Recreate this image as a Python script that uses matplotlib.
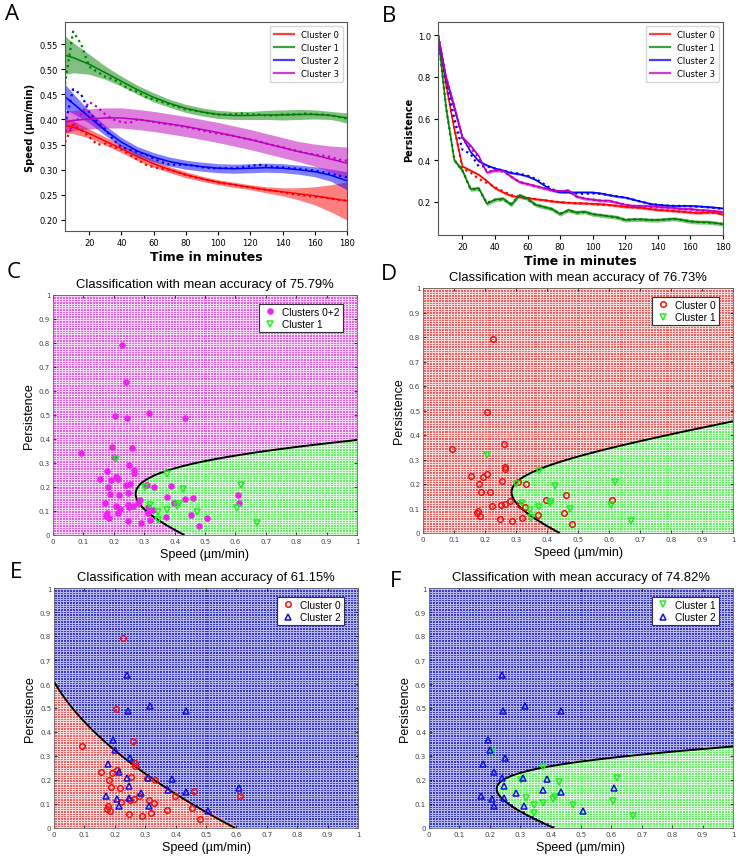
import numpy as np
import matplotlib
matplotlib.use('Agg')
import matplotlib.pyplot as plt
from matplotlib.colors import to_rgb
from matplotlib.lines import Line2D

# ---------------- Panel A : speed over time ----------------
t_raw = np.arange(5, 181, 5)
t_fit = np.array([5, 10, 20, 30, 40, 50, 60, 70, 80, 90, 100, 110, 120, 130, 140, 150, 160, 170, 180])
cluster_names = ['Cluster 0', 'Cluster 1', 'Cluster 2', 'Cluster 3']

speed_fit_c0 = [0.388, 0.385, 0.372, 0.357, 0.342, 0.326, 0.312, 0.300, 0.290, 0.282, 0.275, 0.270, 0.265, 0.260, 0.256, 0.252, 0.248, 0.243, 0.238]
speed_fit_c1 = [0.528, 0.523, 0.510, 0.493, 0.476, 0.459, 0.444, 0.432, 0.422, 0.415, 0.410, 0.408, 0.408, 0.409, 0.409, 0.410, 0.410, 0.408, 0.403]
speed_fit_c2 = [0.445, 0.432, 0.405, 0.378, 0.355, 0.337, 0.325, 0.316, 0.310, 0.306, 0.303, 0.302, 0.303, 0.304, 0.303, 0.300, 0.296, 0.289, 0.278]
speed_fit_c3 = [0.395, 0.398, 0.401, 0.403, 0.403, 0.400, 0.396, 0.391, 0.386, 0.380, 0.374, 0.367, 0.360, 0.352, 0.344, 0.336, 0.329, 0.321, 0.313]

speed_band_c0 = [0.015, 0.013, 0.009, 0.008, 0.008, 0.008, 0.007, 0.006, 0.006, 0.005, 0.005, 0.005, 0.005, 0.006, 0.008, 0.012, 0.018, 0.027, 0.038]
speed_band_c1 = [0.038, 0.030, 0.020, 0.013, 0.010, 0.009, 0.009, 0.008, 0.008, 0.008, 0.008, 0.008, 0.008, 0.009, 0.010, 0.010, 0.009, 0.008, 0.010]
speed_band_c2 = [0.025, 0.020, 0.012, 0.010, 0.009, 0.009, 0.009, 0.009, 0.009, 0.009, 0.009, 0.009, 0.009, 0.009, 0.009, 0.009, 0.010, 0.012, 0.018]
speed_band_c3 = [0.022, 0.020, 0.020, 0.020, 0.020, 0.020, 0.020, 0.020, 0.020, 0.020, 0.020, 0.020, 0.020, 0.020, 0.020, 0.020, 0.022, 0.026, 0.032]

speed_raw_c0 = [0.355, 0.390, 0.380, 0.365, 0.350, 0.352, 0.345, 0.340, 0.330, 0.320, 0.310, 0.305, 0.302, 0.300, 0.295, 0.290, 0.285, 0.282,
                0.278, 0.275, 0.272, 0.270, 0.267, 0.265, 0.262, 0.260, 0.258, 0.255, 0.252, 0.250, 0.248, 0.246, 0.245, 0.243, 0.240, 0.238]
speed_raw_c1 = [0.470, 0.575, 0.550, 0.505, 0.495, 0.485, 0.480, 0.470, 0.460, 0.455, 0.445, 0.440, 0.435, 0.430, 0.425, 0.420, 0.418, 0.415,
                0.412, 0.410, 0.410, 0.410, 0.412, 0.410, 0.410, 0.408, 0.408, 0.410, 0.410, 0.410, 0.412, 0.410, 0.410, 0.408, 0.405, 0.402]
speed_raw_c2 = [0.390, 0.460, 0.450, 0.415, 0.395, 0.380, 0.360, 0.345, 0.340, 0.335, 0.330, 0.322, 0.315, 0.310, 0.310, 0.310, 0.308, 0.305,
                0.303, 0.303, 0.303, 0.303, 0.305, 0.307, 0.310, 0.308, 0.305, 0.305, 0.303, 0.302, 0.300, 0.298, 0.295, 0.292, 0.288, 0.285]
speed_raw_c3 = [0.375, 0.385, 0.410, 0.435, 0.425, 0.410, 0.400, 0.395, 0.393, 0.400, 0.398, 0.395, 0.392, 0.390, 0.388, 0.385, 0.382, 0.378,
                0.375, 0.372, 0.370, 0.367, 0.363, 0.360, 0.357, 0.352, 0.348, 0.345, 0.340, 0.337, 0.333, 0.330, 0.328, 0.325, 0.320, 0.318]

# ---------------- Panel B : persistence over time ----------------
pers_c0 = [1.0, 0.76, 0.55, 0.37, 0.35, 0.33, 0.30, 0.265, 0.245, 0.228, 0.222, 0.218, 0.212, 0.208, 0.202, 0.198, 0.195, 0.193,
           0.192, 0.190, 0.188, 0.185, 0.180, 0.175, 0.173, 0.170, 0.165, 0.160, 0.158, 0.155, 0.152, 0.148, 0.145, 0.148, 0.148, 0.138]
pers_c1 = [1.0, 0.65, 0.40, 0.35, 0.26, 0.265, 0.19, 0.21, 0.215, 0.185, 0.232, 0.215, 0.185, 0.175, 0.165, 0.14, 0.16, 0.148,
           0.152, 0.14, 0.135, 0.13, 0.125, 0.112, 0.115, 0.115, 0.112, 0.112, 0.115, 0.118, 0.112, 0.105, 0.102, 0.102, 0.098, 0.092]
pers_c2 = [1.0, 0.79, 0.65, 0.51, 0.44, 0.395, 0.375, 0.36, 0.35, 0.338, 0.332, 0.322, 0.305, 0.28, 0.255, 0.245, 0.245, 0.245,
           0.245, 0.245, 0.24, 0.232, 0.225, 0.22, 0.21, 0.20, 0.19, 0.185, 0.182, 0.18, 0.18, 0.18, 0.178, 0.175, 0.172, 0.168]
pers_c3 = [1.0, 0.80, 0.66, 0.51, 0.47, 0.42, 0.34, 0.35, 0.35, 0.32, 0.295, 0.285, 0.275, 0.265, 0.255, 0.25, 0.255, 0.225,
           0.215, 0.21, 0.205, 0.205, 0.195, 0.185, 0.18, 0.18, 0.178, 0.175, 0.172, 0.17, 0.165, 0.165, 0.16, 0.158, 0.155, 0.15]

pers_dot_c0 = [1.0, 0.76, 0.56, 0.36, 0.34, 0.31, 0.29, 0.27, 0.25, 0.232, 0.224, 0.218, 0.212, 0.207, 0.202, 0.198, 0.195, 0.193,
               0.191, 0.189, 0.187, 0.184, 0.18, 0.176, 0.172, 0.17, 0.166, 0.161, 0.158, 0.155, 0.152, 0.149, 0.146, 0.148, 0.147, 0.14]
pers_dot_c1 = [1.0, 0.65, 0.40, 0.35, 0.26, 0.26, 0.195, 0.21, 0.21, 0.19, 0.228, 0.21, 0.185, 0.175, 0.165, 0.142, 0.158, 0.148,
               0.15, 0.14, 0.135, 0.13, 0.123, 0.113, 0.115, 0.115, 0.112, 0.112, 0.114, 0.117, 0.112, 0.106, 0.102, 0.1, 0.097, 0.093]
pers_dot_c2 = [1.0, 0.78, 0.60, 0.45, 0.43, 0.37, 0.37, 0.36, 0.35, 0.34, 0.335, 0.325, 0.31, 0.285, 0.26, 0.248, 0.245, 0.24,
               0.238, 0.24, 0.238, 0.232, 0.226, 0.22, 0.21, 0.2, 0.19, 0.185, 0.182, 0.18, 0.18, 0.178, 0.176, 0.174, 0.17, 0.165]
pers_dot_c3 = [1.0, 0.80, 0.66, 0.50, 0.46, 0.41, 0.345, 0.35, 0.345, 0.32, 0.295, 0.285, 0.275, 0.265, 0.255, 0.25, 0.252, 0.225,
               0.215, 0.21, 0.205, 0.203, 0.195, 0.185, 0.18, 0.178, 0.176, 0.174, 0.172, 0.168, 0.165, 0.163, 0.158, 0.156, 0.153, 0.148]
pers_band = [0.006, 0.010, 0.005, 0.008]

# ---------------- Panels C-F : cell scatter (speed, persistence) ----------------
c0_speed = [0.093, 0.260, 0.265, 0.266, 0.155, 0.192, 0.208, 0.180, 0.254, 0.186, 0.216, 0.305, 0.333, 0.280, 0.264, 0.250, 0.221,
            0.314, 0.328, 0.178, 0.174, 0.185, 0.247, 0.288, 0.318, 0.398, 0.462, 0.371, 0.454, 0.480, 0.611, 0.226, 0.205]
c0_pers = [0.341, 0.364, 0.269, 0.260, 0.233, 0.229, 0.241, 0.201, 0.211, 0.169, 0.167, 0.208, 0.198, 0.132, 0.120, 0.116, 0.110,
           0.116, 0.106, 0.091, 0.080, 0.069, 0.058, 0.051, 0.061, 0.133, 0.155, 0.075, 0.083, 0.037, 0.133, 0.790, 0.494]
c1_speed = [0.206, 0.374, 0.301, 0.426, 0.618, 0.320, 0.345, 0.347, 0.374, 0.409, 0.413, 0.473, 0.605, 0.672]
c1_pers = [0.317, 0.253, 0.198, 0.190, 0.208, 0.124, 0.094, 0.061, 0.106, 0.122, 0.128, 0.096, 0.113, 0.049]
c2_speed = [0.240, 0.245, 0.317, 0.434, 0.193, 0.201, 0.249, 0.179, 0.215, 0.240, 0.309, 0.389, 0.247, 0.374, 0.285, 0.434,
            0.607, 0.170, 0.206, 0.248, 0.215, 0.312, 0.506]
c2_pers = [0.636, 0.488, 0.507, 0.488, 0.365, 0.326, 0.292, 0.265, 0.235, 0.210, 0.208, 0.205, 0.175, 0.160, 0.144, 0.150,
           0.167, 0.132, 0.122, 0.125, 0.092, 0.090, 0.069]

# decision boundaries (speed, persistence)
bndC_x = [0.434, 0.374, 0.319, 0.290, 0.275, 0.282, 0.297, 0.374, 0.484, 0.703, 1.0]
bndC_y = [0.0, 0.038, 0.086, 0.120, 0.160, 0.195, 0.218, 0.274, 0.302, 0.350, 0.396]
bndD_x = [0.441, 0.344, 0.301, 0.285, 0.312, 0.376, 0.505, 0.726, 1.0]
bndD_y = [0.0, 0.072, 0.127, 0.181, 0.215, 0.262, 0.314, 0.382, 0.456]
bndE_x = [0.0, 0.019, 0.128, 0.238, 0.348, 0.457, 0.596]
bndE_y = [0.604, 0.573, 0.414, 0.282, 0.180, 0.101, 0.0]
bndF_x = [0.415, 0.338, 0.283, 0.243, 0.272, 0.338, 0.448, 0.557, 0.667, 1.0]
bndF_y = [0.0, 0.039, 0.080, 0.164, 0.219, 0.247, 0.268, 0.286, 0.300, 0.340]

accuracies = ['75.79%', '76.73%', '61.15%', '74.82%']
tick_vals = [0, 0.1, 0.2, 0.3, 0.4, 0.5, 0.6, 0.7, 0.8, 0.9, 1.0]
tick_labels = ['0', '0.1', '0.2', '0.3', '0.4', '0.5', '0.6', '0.7', '0.8', '0.9', '1']

# ======================================================================
W, H = 740, 862
fig = plt.figure(figsize=(W / 100, H / 100), dpi=100)


def rect(l, t, r, b):
    return [l / W, 1 - b / H, (r - l) / W, (b - t) / H]


letter_font = dict(fontsize=16, family=['Open Sans', 'DejaVu Sans'])


def letter(x, y, s):
    fig.text(x / W, 1 - y / H, s, ha='center', va='center', **letter_font)


cols = ['red', 'green', 'blue', 'm']


def style_time_axes(ax, ylabel):
    ax.set_xlim(5, 180)
    ax.set_xticks(np.arange(20, 181, 20))
    ax.tick_params(labelsize=6, length=3, pad=2)
    ax.set_xlabel('Time in minutes', fontsize=9, fontweight='bold', labelpad=2)
    ax.set_ylabel(ylabel, fontsize=7, fontweight='bold', labelpad=3)
    for sp in ax.spines.values():
        sp.set_color('#555555')
    handles = [Line2D([], [], color=cols[i], lw=1.6, alpha=0.75) for i in range(4)]
    ax.legend(handles, cluster_names, loc='upper right', fontsize=6, handlelength=2.4,
              borderpad=0.5, labelspacing=0.45)


# ---- A
axA = fig.add_axes(rect(65, 23, 347, 232))
fits = [speed_fit_c0, speed_fit_c1, speed_fit_c2, speed_fit_c3]
bands = [speed_band_c0, speed_band_c1, speed_band_c2, speed_band_c3]
raws = [speed_raw_c0, speed_raw_c1, speed_raw_c2, speed_raw_c3]
for i in range(4):
    f = np.array(fits[i]); h = np.array(bands[i])
    axA.fill_between(t_fit, f - h, f + h, color=cols[i], alpha=0.5, lw=0)
    axA.plot(t_fit, f, color=cols[i], lw=1.1)
    axA.plot(t_raw, raws[i], color=cols[i], lw=1.6, ls=(0, (1, 1.6)))
axA.set_ylim(0.178, 0.594)
axA.set_yticks(np.arange(0.20, 0.56, 0.05))
axA.yaxis.set_major_formatter(matplotlib.ticker.FormatStrFormatter('%.2f'))
style_time_axes(axA, 'Speed (µm/min)')
letter(12, 14, 'A')

# ---- B
axB = fig.add_axes(rect(438, 23, 723, 236))
pers = [pers_c0, pers_c1, pers_c2, pers_c3]
pers_dot = [pers_dot_c0, pers_dot_c1, pers_dot_c2, pers_dot_c3]
for i in range(4):
    p = np.array(pers[i])
    axB.fill_between(t_raw, p - pers_band[i], p + pers_band[i], color=cols[i], alpha=0.45, lw=0)
    axB.plot(t_raw, pers_dot[i], color=cols[i], lw=1.6, ls=(0, (1, 1.6)))
    axB.plot(t_raw, p, color=cols[i], lw=1.1)
axB.set_ylim(0.04, 1.064)
axB.set_yticks([0.2, 0.4, 0.6, 0.8, 1.0])
style_time_axes(axB, 'Persistence')
letter(389, 16, 'B')


# ---- classification panels
def conic_fit(bx, by):
    bx = np.asarray(bx); by = np.asarray(by)
    M = np.column_stack([bx ** 2, bx * by, by ** 2, bx, by, np.ones_like(bx)])
    _, _, vt = np.linalg.svd(M)
    c = vt[-1]
    return lambda x, y: c[0] * x ** 2 + c[1] * x * y + c[2] * y ** 2 + c[3] * x + c[4] * y + c[5]


def quad_in_y_fit(bx, by):
    q = np.polyfit(by, bx, 2)
    return lambda x, y: x - np.polyval(q, y)


mfont = ['Liberation Sans', 'DejaVu Sans']


def class_panel(r, g, inside_pt, col_out, col_in, acc, groups):
    ax = fig.add_axes(r)
    # classification on a 0.01 grid
    centers = np.linspace(0, 1, 101)
    CX, CY = np.meshgrid(centers, centers)
    s_in = np.sign(g(*inside_pt))
    Z = (np.sign(g(CX, CY)) == s_in)
    # render the grid as dotted cells at screen resolution
    nx, ny = int(round(r[2] * W)), int(round(r[3] * H))
    ix = np.clip(np.floor((np.arange(nx) + 0.5) / nx * 101), 0, 100).astype(int)
    iy = np.clip(np.floor((np.arange(ny) + 0.5) / ny * 101), 0, 100).astype(int)
    Zp = Z[np.ix_(iy, ix)]
    gapx = np.r_[True, ix[1:] != ix[:-1]]
    gapy = np.r_[True, iy[1:] != iy[:-1]]
    gap = gapy[:, None] | gapx[None, :]
    cin, cout = np.array(to_rgb(col_in[0])), np.array(to_rgb(col_out[0]))
    gin, gout = np.array(to_rgb(col_in[1])), np.array(to_rgb(col_out[1]))
    img = np.where(Zp[..., None], cin, cout)
    gimg = np.where(Zp[..., None], gin, gout)
    img = np.where(gap[..., None], gimg, img)
    ax.imshow(img, origin='lower', extent=(0, 1, 0, 1), interpolation='nearest', aspect='auto', zorder=0)
    fx = np.linspace(0, 1, 600)
    FX, FY = np.meshgrid(fx, fx)
    ax.contour(FX, FY, g(FX, FY), levels=[0], colors='k', linewidths=1.4, zorder=2)
    for (xs, ys, mk, fc, ec, lab, ms) in groups:
        ax.plot(xs, ys, ls='none', marker=mk, ms=ms, mfc=fc, mec=ec, mew=1.1, label=lab, zorder=3)
    leg = ax.legend(loc='upper right', bbox_to_anchor=(0.97, 0.985), frameon=True, fancybox=False,
                    framealpha=1, edgecolor='#333333', handletextpad=0.4, borderpad=0.3, labelspacing=0.25,
                    handlelength=1.6, prop={'family': mfont, 'size': 7.3})
    leg.get_frame().set_linewidth(0.8)
    ax.set_xlim(0, 1)
    ax.set_ylim(0, 1)
    ax.set_xticks(tick_vals)
    ax.set_yticks(tick_vals)
    ax.set_xticklabels(tick_labels)
    ax.set_yticklabels(tick_labels)
    ax.tick_params(direction='in', length=2, labelsize=5, labelcolor='#444444', top=True, right=True, pad=2, width=0.5)
    ax.set_xlabel('Speed (µm/min)', fontsize=9, family=mfont, labelpad=3)
    ax.set_ylabel('Persistence', fontsize=9, family=mfont, labelpad=3)
    ax.set_title('Classification with mean accuracy of ' + acc, fontsize=9.4, family=mfont, pad=6)
    for sp in ax.spines.values():
        sp.set_color('#666666')
        sp.set_linewidth(0.6)
    return ax


mag = ('#e060e0', '#f6d6f6')
red = ('#ee6060', '#fad8d8')
grn = ('#66ee66', '#d8fad8')
blu = ('#3a3ac8', '#b8b8f0')

g0_2 = (c0_speed + c2_speed, c0_pers + c2_pers, 'o', '#ee22ee', '#ee22ee', 'Clusters 0+2', 3.6)
g1 = (c1_speed, c1_pers, 'v', 'none', '#22ee22', 'Cluster 1', 4.2)
g0 = (c0_speed, c0_pers, 'o', 'none', '#ee1111', 'Cluster 0', 4.0)
g2 = (c2_speed, c2_pers, '^', 'none', '#1111dd', 'Cluster 2', 4.0)

class_panel(rect(53, 296, 357, 536), conic_fit(bndC_x, bndC_y), (0.8, 0.1), mag, grn, accuracies[0], [g0_2, g1])
letter(14, 272, 'C')
class_panel(rect(423, 289, 733, 534), conic_fit(bndD_x, bndD_y), (0.8, 0.1), red, grn, accuracies[1], [g0, g1])
letter(389, 275, 'D')
class_panel(rect(54, 589, 358, 829), quad_in_y_fit(bndE_x, bndE_y), (0.1, 0.1), blu, red, accuracies[2], [g0, g2])
letter(16, 573, 'E')
class_panel(rect(429, 589, 733, 829), conic_fit(bndF_x, bndF_y), (0.8, 0.1), blu, grn, accuracies[3], [g1, g2])
letter(396, 582, 'F')

fig.savefig('out.png', dpi=100)
